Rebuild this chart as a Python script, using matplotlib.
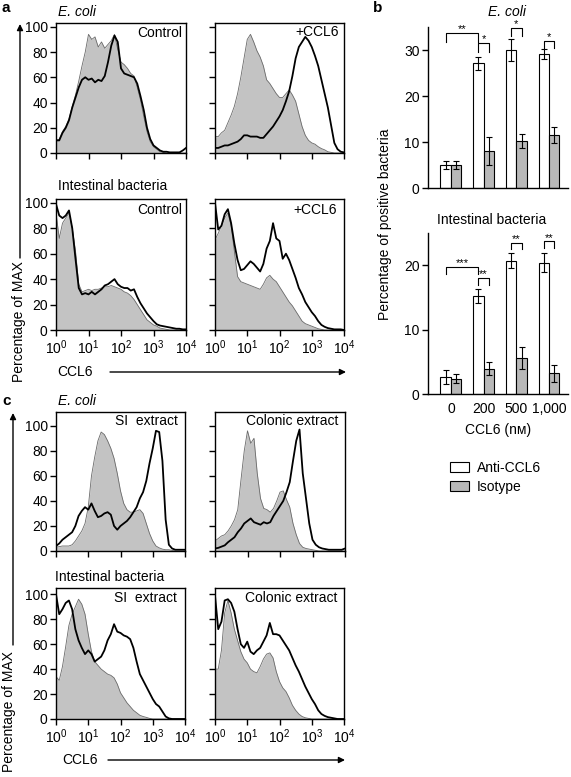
import matplotlib.pyplot as plt
import numpy as np
from matplotlib.patches import Patch, FancyArrowPatch
from matplotlib.ticker import NullLocator

plt.rcParams['font.family'] = ['Liberation Sans', 'DejaVu Sans']
plt.rcParams['mathtext.fontset'] = 'custom'
plt.rcParams['mathtext.rm'] = 'Liberation Sans'
plt.rcParams['font.size'] = 10

W, H = 571, 777

# log10 fluorescence channels (0.1 decade bins)
channels = np.linspace(0, 4, 41)

# panel a, E. coli, control
ecoli_ctrl_iso = [10, 11, 17, 21, 27, 37, 46, 57, 69, 80, 94,
                  90, 92, 84, 88, 83, 86, 89, 94, 82, 72,
                  70, 67, 63, 61, 52, 42, 29, 17, 9, 5,
                  3, 1, 0.5, 0, 0, 0, 0, 0, 0, 0]
ecoli_ctrl_ab = [10, 10, 16, 20, 26, 36, 44, 52, 58, 60, 58,
                 59, 56, 58, 57, 61, 72, 85, 93, 88, 67,
                 63, 62, 61, 60, 55, 45, 34, 20, 11, 6,
                 4, 2, 1, 1, 0.5, 0.5, 0.5, 0.5, 2, 4]
# panel a, E. coli, +CCL6
ecoli_ccl6_iso = [13, 13, 16, 18, 24, 30, 37, 47, 60, 75, 90,
                  94, 88, 81, 76, 69, 58, 55, 51, 47, 44,
                  44, 47, 50, 46, 41, 31, 21, 14, 10, 8,
                  7, 5, 3.5, 2.5, 1, 0.5, 0, 0, 0, 0]
ecoli_ccl6_ab = [4, 4, 5, 6, 6, 7, 8, 9, 11, 14, 14,
                 13, 13, 13, 12, 12, 15, 18, 21, 25, 29,
                 34, 41, 49, 61, 75, 84, 88, 92, 89, 84,
                 77, 69, 58, 47, 36, 22, 8, 3, 1, 0.5]
# panel a, intestinal bacteria, control
gut_ctrl_iso = [92, 72, 84, 88, 92, 80, 62, 36, 30, 31, 32,
                31, 32, 32, 33, 34, 34, 35, 34, 33, 32,
                30, 29, 27, 24, 20, 16, 12, 8, 6, 4,
                3, 1.5, 1, 0.5, 0, 0, 0, 0, 0, 0]
gut_ctrl_ab = [99, 90, 88, 90, 94, 80, 56, 33, 28, 29, 28,
               30, 28, 30, 32, 35, 36, 38, 40, 36, 34,
               33, 33, 31, 32, 26, 21, 17, 13, 10, 7,
               4.5, 3.5, 3, 2.5, 2, 1.5, 1, 1, 0.5, 0.5]
# panel a, intestinal bacteria, +CCL6
gut_ccl6_iso = [71, 76, 82, 88, 92, 82, 62, 42, 38, 37, 36,
                35, 34, 33, 32, 36, 41, 43, 40, 38, 34,
                30, 26, 22, 19, 15, 11, 7, 5, 4, 3,
                2, 1, 0.5, 0, 0, 0, 0, 0, 0, 0]
gut_ccl6_ab = [100, 79, 82, 91, 95, 84, 68, 55, 47, 48, 51,
               54, 52, 49, 46, 52, 64, 70, 84, 72, 70,
               56, 60, 55, 48, 41, 33, 28, 22, 18, 14,
               11, 7, 4, 2.5, 1.5, 1, 0.5, 0.5, 0.5, 0]
# panel c, E. coli, SI extract
ecoli_si_iso = [3, 3.5, 4, 4, 4, 5, 8, 12, 16, 22, 35,
                60, 75, 88, 95, 93, 88, 82, 74, 62, 48,
                38, 33, 31, 31, 32, 33, 30, 22, 14, 8,
                4, 2.5, 1.5, 1, 1, 0.5, 0, 0, 0, 0]
ecoli_si_ab = [4, 6, 9, 11, 13, 15, 20, 28, 32, 35, 33,
               38, 32, 27, 28, 30, 31, 29, 20, 17, 20,
               22, 24, 27, 31, 35, 42, 47, 56, 70, 82,
               96, 95, 72, 25, 5, 2, 1, 1, 1, 1]
# panel c, E. coli, colonic extract
ecoli_col_iso = [8, 10, 12, 13, 16, 20, 25, 33, 57, 80, 96,
                 86, 90, 62, 42, 34, 33, 31, 34, 40, 47,
                 48, 41, 35, 22, 13, 6, 3, 2, 1.5, 1,
                 0.5, 0, 0, 0, 0, 0, 0, 0, 0, 0]
ecoli_col_ab = [2, 2.5, 3.5, 4.5, 7, 9, 11, 15, 18, 22, 24,
                26, 23, 22, 21, 23, 22, 23, 28, 32, 36,
                40, 47, 55, 72, 88, 97, 62, 42, 22, 9,
                5, 3, 2, 1.5, 1, 1, 1, 1, 1, 2]
# panel c, intestinal bacteria, SI extract
gut_si_iso = [34, 31, 42, 58, 75, 84, 90, 96, 92, 84, 68,
              54, 46, 43, 40, 38, 36, 35, 33, 28, 21,
              17, 13, 10, 7, 5, 3, 2, 1.3, 0.5, 0,
              0, 0, 0, 0, 0, 0, 0, 0, 0, 0]
gut_si_ab = [100, 84, 88, 93, 95, 88, 72, 63, 57, 52, 55,
             52, 46, 48, 50, 55, 63, 68, 76, 70, 69,
             67, 66, 64, 57, 46, 36, 31, 26, 21, 16,
             12, 10, 6, 2, 0.5, 0, 0, 0, 0, 0]
# panel c, intestinal bacteria, colonic extract
gut_col_iso = [40, 40, 55, 85, 95, 85, 72, 63, 54, 48, 45,
               40, 38, 37, 42, 48, 52, 53, 49, 38, 30,
               25, 22, 17, 11, 7, 4, 2, 1, 0.5, 0,
               0, 0, 0, 0, 0, 0, 0, 0, 0, 0]
gut_col_ab = [99, 72, 78, 95, 96, 93, 86, 72, 60, 57, 62,
              54, 52, 55, 57, 62, 67, 77, 68, 68, 67,
              63, 59, 55, 49, 43, 38, 32, 26, 21, 16,
              12, 7, 4, 2.5, 1.5, 1, 0.5, 0, 0, 0]

# panel b
doses = ['0', '200', '500', '1,000']
ecoli_anti = [5.0, 27.1, 30.0, 29.2]
ecoli_anti_err = [0.8, 1.4, 2.4, 1.1]
ecoli_isotype = [5.0, 8.0, 10.3, 11.5]
ecoli_isotype_err = [0.8, 3.1, 1.5, 1.8]
gut_anti = [2.7, 15.2, 20.7, 20.4]
gut_anti_err = [1.1, 1.1, 1.2, 1.5]
gut_isotype = [2.4, 3.9, 5.6, 3.2]
gut_isotype_err = [0.7, 1.0, 1.65, 1.3]

# significance brackets: (bar from, bar to, top, end, label)
ecoli_sig = [((0, 'w'), (1, 'w'), 33.7, 31.8, '**'),
             ((1, 'w'), (1, 'g'), 31.5, 29.6, '*'),
             ((2, 'w'), (2, 'g'), 34.8, 33.0, '*'),
             ((3, 'w'), (3, 'g'), 32.0, 30.4, '*')]
gut_sig = [((0, 'w'), (1, 'w'), 19.7, 18.7, '***'),
           ((1, 'w'), (1, 'g'), 18.0, 17.0, '**'),
           ((2, 'w'), (2, 'g'), 23.5, 22.5, '**'),
           ((3, 'w'), (3, 'g'), 23.7, 22.7, '**')]

FILL = '#c3c3c3'
BARGRAY = '#b8b8b8'

fig = plt.figure(figsize=(W / 100, H / 100), dpi=100)


def fx(x):
    return x / W


def fy(y):
    return 1 - y / H


def px_axes(x0, y0, x1, y1):
    return fig.add_axes([fx(x0), fy(y1), (x1 - x0) / W, (y1 - y0) / H])


def ftext(x, y, s, **kw):
    kw.setdefault('va', 'center')
    fig.text(fx(x), fy(y), s, **kw)


def farrow(x0, y0, x1, y1):
    fig.add_artist(FancyArrowPatch((fx(x0), fy(y0)), (fx(x1), fy(y1)),
                                   transform=fig.transFigure, arrowstyle='-|>',
                                   mutation_scale=9, lw=1, color='k',
                                   shrinkA=0, shrinkB=0))


def histo(box, iso, ab, ymax, ylab, xlab):
    ax = px_axes(*box)
    x = 10 ** channels
    ax.fill_between(x, iso, color=FILL, lw=0)
    ax.plot(x, iso, color='#6a6a6a', lw=0.6)
    ax.plot(x, ab, color='k', lw=1.3)
    ax.set_xscale('log')
    ax.set_xlim(1, 1e4)
    ax.set_ylim(0, ymax)
    ax.set_xticks([1, 10, 100, 1000, 10000])
    ax.xaxis.set_minor_locator(NullLocator())
    ax.set_yticks([0, 20, 40, 60, 80, 100])
    if xlab:
        ax.set_xticklabels([r'$\mathregular{10^{%d}}$' % k for k in range(5)])
    else:
        ax.set_xticklabels([])
    if not ylab:
        ax.set_yticklabels([])
    ax.tick_params(direction='out', length=4, width=1, labelsize=10, pad=2)
    for s in ax.spines.values():
        s.set_linewidth(1)
    return ax


# ---- panel a ----
histo((56, 23, 186, 153), ecoli_ctrl_iso, ecoli_ctrl_ab, 103, True, False)
histo((215, 23, 344, 153), ecoli_ccl6_iso, ecoli_ccl6_ab, 103, False, False)
histo((56, 199, 186, 330), gut_ctrl_iso, gut_ctrl_ab, 103, True, True)
histo((215, 199, 344, 330), gut_ccl6_iso, gut_ccl6_ab, 103, False, True)

ftext(2, 8, 'a', fontweight='bold', fontsize=11)
ftext(58, 12, 'E. coli', style='italic')
ftext(58, 186, 'Intestinal bacteria')
ftext(182, 33, 'Control', ha='right')
ftext(339, 32, '+CCL6', ha='right')
ftext(182, 210, 'Control', ha='right')
ftext(337, 210, '+CCL6', ha='right')
ftext(57, 372, 'CCL6')
farrow(110, 372, 346, 372)
ftext(19, 322, 'Percentage of MAX', rotation=90, ha='center')
farrow(20, 258, 20, 24)

# ---- panel c ----
histo((56, 412, 185, 551), ecoli_si_iso, ecoli_si_ab, 111, True, False)
histo((215, 412, 345, 551), ecoli_col_iso, ecoli_col_ab, 111, False, False)
histo((56, 588, 185, 719), gut_si_iso, gut_si_ab, 105, True, True)
histo((215, 588, 344, 719), gut_col_iso, gut_col_ab, 105, False, True)

ftext(2, 401, 'c', fontweight='bold', fontsize=11)
ftext(58, 401, 'E. coli', style='italic')
ftext(55, 577, 'Intestinal bacteria')
ftext(178, 421, 'SI  extract', ha='right')
ftext(338, 421, 'Colonic extract', ha='right')
ftext(177, 598, 'SI  extract', ha='right')
ftext(337, 598, 'Colonic extract', ha='right')
ftext(62, 760, 'CCL6')
farrow(108, 760, 345, 760)
ftext(9, 712, 'Percentage of MAX', rotation=90, ha='center')
farrow(13, 645, 13, 413)

# ---- panel b ----
bw = 0.32


def bars(box, anti, anti_err, iso, iso_err, ymax, yticks, sig, xlab):
    ax = px_axes(*box)
    pos = np.arange(len(doses))
    ek = dict(ecolor='k', elinewidth=0.8, capsize=2, capthick=0.8)
    ax.bar(pos - bw / 2, anti, bw, yerr=anti_err, color='white',
           edgecolor='k', lw=0.8, error_kw=ek)
    ax.bar(pos + bw / 2, iso, bw, yerr=iso_err, color=BARGRAY,
           edgecolor='k', lw=0.8, error_kw=ek)
    ax.set_xlim(-0.7, 3.58)
    ax.set_ylim(0, ymax)
    ax.set_yticks(yticks)
    ax.set_xticks(pos)
    ax.set_xticklabels(doses if xlab else [])
    ax.tick_params(axis='x', length=0, labelsize=10, pad=6)
    ax.tick_params(axis='y', direction='out', length=4, width=1, labelsize=10, pad=2)
    ax.spines['top'].set_visible(False)
    ax.spines['right'].set_visible(False)
    ax.spines['left'].set_linewidth(1)
    ax.spines['bottom'].set_linewidth(1)
    off = {'w': -bw / 2, 'g': bw / 2}
    for (g1, s1), (g2, s2), top, end, lab in sig:
        x1, x2 = g1 + off[s1], g2 + off[s2]
        ax.plot([x1, x1, x2, x2], [end, top, top, end], color='k', lw=0.8,
                clip_on=False)
        ax.text((x1 + x2) / 2, top + ymax * 0.004, lab, ha='center',
                va='baseline', fontsize=8, clip_on=False)
    return ax


bars((428, 27, 568, 188), ecoli_anti, ecoli_anti_err, ecoli_isotype,
     ecoli_isotype_err, 35, [0, 10, 20, 30], ecoli_sig, False)
bars((428, 233, 568, 394), gut_anti, gut_anti_err, gut_isotype,
     gut_isotype_err, 25, [0, 10, 20], gut_sig, True)

ftext(373, 8, 'b', fontweight='bold', fontsize=11)
ftext(507, 12, 'E. coli', style='italic', ha='center')
ftext(492, 220, 'Intestinal bacteria', ha='center')
ftext(385, 224, 'Percentage of positive bacteria', rotation=90, ha='center')
ftext(498, 430, 'CCL6 (nᴍ)', ha='center')

handles = [Patch(facecolor='white', edgecolor='k', lw=0.8),
           Patch(facecolor=BARGRAY, edgecolor='k', lw=0.8)]
fig.legend(handles, ['Anti-CCL6', 'Isotype'], loc='upper left',
           bbox_to_anchor=(fx(450), fy(461)), frameon=False, fontsize=10,
           handlelength=1.35, handleheight=0.65, handletextpad=0.6,
           labelspacing=0.35, borderpad=0, borderaxespad=0)

fig.savefig('out.png', dpi=100)
